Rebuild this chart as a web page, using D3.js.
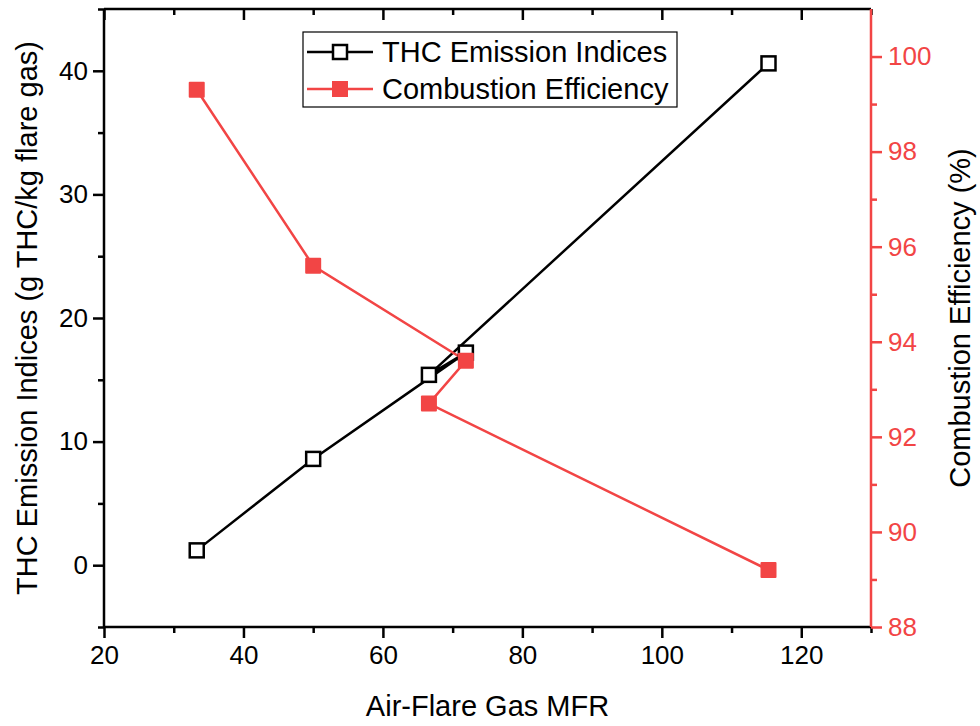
<!DOCTYPE html>
<meta charset="utf-8">
<head>
  <script src="https://d3js.org/d3.v7.min.js"></script>
  <style>
    body { margin: 0; background: #fff; }
    svg text { font-family: "Liberation Sans", Arial, sans-serif; }
  </style>
</head>
<body>
<div id="my_dataviz"></div>
<script>
// data (drawing order kept as in the original)
var mfr = [33.3, 50, 71.9, 66.6, 115.3];
var thc = [1.2, 8.6, 17.2, 15.4, 40.6];
var efficiency = [99.3, 95.6, 93.6, 92.7, 89.2];
var xTicks = [20, 40, 60, 80, 100, 120];
var yLeftTicks = [0, 10, 20, 30, 40];
var yRightTicks = [88, 90, 92, 94, 96, 98, 100];
var seriesNames = ["THC Emission Indices", "Combustion Efficiency"];

var red = "#f24545";
var margin = {top: 9, right: 109, bottom: 99, left: 104},
    width = 980 - margin.left - margin.right,
    height = 726 - margin.top - margin.bottom;

var svg = d3.select("#my_dataviz")
  .append("svg")
    .attr("width", 980)
    .attr("height", 726)
  .append("g")
    .attr("transform", "translate(" + margin.left + "," + margin.top + ")");

var x = d3.scaleLinear().domain([20, 130]).range([0, width]);
var yL = d3.scaleLinear().domain([-5, 45]).range([height, 0]);
var yR = d3.scaleLinear().domain([88, 101]).range([height, 0]);

function styleAxis(g, color, size) {
  g.select(".domain").remove();
  g.selectAll("line").attr("stroke", color).attr("stroke-width", 2.5);
  g.selectAll("text").attr("fill", color).style("font-size", size + "px");
}

// minor ticks first
svg.append("g")
  .attr("transform", "translate(0," + height + ")")
  .call(d3.axisBottom(x).tickValues(d3.range(30, 131, 20)).tickSize(6).tickFormat(""))
  .call(styleAxis, "#000", 26);
svg.append("g")
  .call(d3.axisTop(x).tickValues(d3.range(30, 131, 20)).tickSize(-6).tickFormat(""))
  .call(styleAxis, "#000", 26);
svg.append("g")
  .call(d3.axisLeft(yL).tickValues(d3.range(-5, 46, 10)).tickSize(6).tickFormat(""))
  .call(styleAxis, "#000", 26);
svg.append("g")
  .attr("transform", "translate(" + width + ",0)")
  .call(d3.axisRight(yR).tickValues(d3.range(89, 101, 2)).tickSize(6).tickFormat(""))
  .call(styleAxis, red, 26);

// major ticks
svg.append("g")
  .attr("transform", "translate(0," + height + ")")
  .call(d3.axisBottom(x).tickValues(xTicks).tickSize(11).tickPadding(8))
  .call(styleAxis, "#000", 26);
svg.append("g")
  .call(d3.axisTop(x).tickValues(xTicks).tickSize(-11).tickFormat(""))
  .call(styleAxis, "#000", 26);
svg.append("g")
  .call(d3.axisLeft(yL).tickValues(yLeftTicks).tickSize(11).tickPadding(5))
  .call(styleAxis, "#000", 26);
svg.append("g")
  .attr("transform", "translate(" + width + ",0)")
  .call(d3.axisRight(yR).tickValues(yRightTicks).tickSize(11).tickPadding(6))
  .call(styleAxis, red, 26);

// frame
svg.append("line").attr("x1", 0).attr("x2", 0).attr("y1", 0).attr("y2", height)
  .attr("stroke", "#000").attr("stroke-width", 2.5);
svg.append("line").attr("x1", 0).attr("x2", width).attr("y1", height).attr("y2", height)
  .attr("stroke", "#000").attr("stroke-width", 2.5);
svg.append("line").attr("x1", 0).attr("x2", width).attr("y1", 0).attr("y2", 0)
  .attr("stroke", "#000").attr("stroke-width", 2.5);
svg.append("line").attr("x1", width).attr("x2", width).attr("y1", 0).attr("y2", height)
  .attr("stroke", red).attr("stroke-width", 2.5);

// series
var idx = d3.range(mfr.length);
svg.append("path")
  .datum(idx)
  .attr("fill", "none").attr("stroke", "#000").attr("stroke-width", 2.5)
  .attr("d", d3.line().x(function(i) { return x(mfr[i]); }).y(function(i) { return yL(thc[i]); }));
svg.append("path")
  .datum(idx)
  .attr("fill", "none").attr("stroke", red).attr("stroke-width", 2.5)
  .attr("d", d3.line().x(function(i) { return x(mfr[i]); }).y(function(i) { return yR(efficiency[i]); }));

svg.selectAll("thcPt").data(idx).enter().append("rect")
  .attr("x", function(i) { return x(mfr[i]) - 7; })
  .attr("y", function(i) { return yL(thc[i]) - 7; })
  .attr("width", 14).attr("height", 14)
  .attr("fill", "#fff").attr("stroke", "#000").attr("stroke-width", 2.5);
svg.selectAll("cePt").data(idx).enter().append("rect")
  .attr("x", function(i) { return x(mfr[i]) - 8; })
  .attr("y", function(i) { return yR(efficiency[i]) - 8; })
  .attr("width", 16).attr("height", 16).attr("rx", 1)
  .attr("fill", red);

// axis titles
svg.append("text")
  .attr("x", width / 2).attr("y", height + 89)
  .attr("text-anchor", "middle").style("font-size", "29px")
  .text("Air-Flare Gas MFR");
svg.append("text")
  .attr("transform", "translate(" + (-67) + "," + (height / 2) + ")rotate(-90)")
  .attr("text-anchor", "middle").style("font-size", "29px")
  .text("THC Emission Indices (g THC/kg flare gas)");
svg.append("text")
  .attr("transform", "translate(" + (width + 99) + "," + (height / 2) + ")rotate(-90)")
  .attr("text-anchor", "middle").style("font-size", "29px")
  .text("Combustion Efficiency (%)");

// legend
var lg = svg.append("g").attr("transform", "translate(" + (303 - margin.left) + "," + (32 - margin.top) + ")");
lg.append("rect").attr("width", 374).attr("height", 75)
  .attr("fill", "#fff").attr("stroke", "#000").attr("stroke-width", 1.2);
seriesNames.forEach(function(name, i) {
  var cy = 20 + i * 37;
  var c = i === 0 ? "#000" : red;
  lg.append("line").attr("x1", 4).attr("x2", 70).attr("y1", cy).attr("y2", cy)
    .attr("stroke", c).attr("stroke-width", 2.5);
  if (i === 0) {
    lg.append("rect").attr("x", 30).attr("y", cy - 7).attr("width", 14).attr("height", 14)
      .attr("fill", "#fff").attr("stroke", "#000").attr("stroke-width", 2.5);
  } else {
    lg.append("rect").attr("x", 29).attr("y", cy - 8).attr("width", 16).attr("height", 16)
      .attr("fill", red);
  }
  lg.append("text").attr("x", 79).attr("y", cy + 10)
    .style("font-size", "29px").text(name);
});
</script>
</body>
